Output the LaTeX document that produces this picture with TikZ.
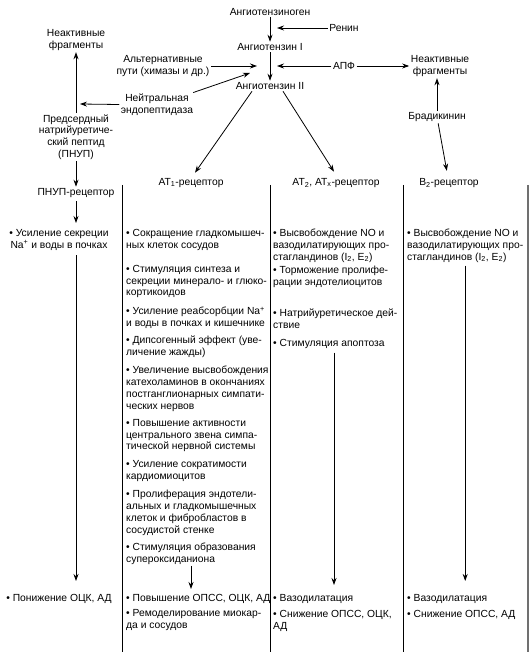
\documentclass[tikz,border=0pt]{standalone}
\usepackage{fontspec}
\setmainfont{Liberation Sans}
\usepackage{tikz}
\usetikzlibrary{arrows.meta, positioning, calc}
\definecolor{grisborde}{RGB}{112,112,112}

\begin{document}
\begin{tikzpicture}[x=1pt, y=-1pt,
  tekst/.style={font=\fontsize{10.3}{11.8}\selectfont, inner sep=0pt, align=left, anchor=north west},
  tekstc/.style={tekst, align=center, anchor=north},
  zagolovok/.style={font=\fontsize{10.3}{11.8}\selectfont, inner sep=1.5pt, align=center},
  strelka/.style={-{Stealth[length=7pt,width=5pt]}, line width=0.8pt}]
  \useasboundingbox (0,0) rectangle (531,652);
  % top of the cascade
  \node[zagolovok] (ang0) at (270,12) {Ангиотензиноген};
  \node[zagolovok] (renin) at (344,28) {Ренин};
  \node[zagolovok] (ang1) at (270,47) {Ангиотензин I};
  \node[zagolovok] (apf) at (344,66) {АПФ};
  \node[zagolovok] (ang2) at (270,86) {Ангиотензин II};
  \node[zagolovok] (fragr) at (440,66) {Неактивные\\фрагменты};
  \node[zagolovok] (brad) at (437,117) {Брадикинин};
  \node[zagolovok] (alt) at (163,66) {Альтернативные\\пути (химазы и др.)};
  \node[zagolovok] (nep) at (157,105) {Нейтральная\\эндопептидаза};
  \node[zagolovok] (fragl) at (76,40) {Неактивные\\фрагменты};
  \node[zagolovok] (pnup) at (76,137) {Предсердный\\натрийуретиче-\\ский пептид\\(ПНУП)};
  \coordinate (reninend) at (277,28);
  \coordinate (apfend) at (277,66);
  \coordinate (altend) at (257,66);
  \coordinate (nepend) at (250,73);
  \coordinate (nepleft) at (80,104);
  \draw[strelka] (ang0) -- (ang1);
  \draw[strelka] (ang1) -- (ang2);
  \draw[strelka] (renin) -- (reninend);
  \draw[strelka] (apf) -- (apfend);
  \draw[strelka] (apf) -- (fragr);
  \draw[strelka] (alt) -- (altend);
  \draw[strelka] (nep) -- (nepend);
  \draw[strelka] (nep) -- (nepleft);
  \draw[strelka] (pnup) -- (fragl);
  \draw[strelka] (brad.north) -- (brad.north |- fragr.south);
  % receptors
  \node[zagolovok] (pnuprec) at (76,193) {ПНУП-рецептор};
  \node[zagolovok] (at1) at (191,183) {AT\textsubscript{1}-рецептор};
  \node[zagolovok] (at2) at (336,183) {AT\textsubscript{2}, AT\textsubscript{x}-рецептор};
  \node[zagolovok] (b2) at (449,183) {B\textsubscript{2}-рецептор};
  \draw[strelka] (pnup) -- (pnuprec);
  \draw[strelka] ([xshift=-18pt]ang2.south) -- ([xshift=4pt,yshift=4pt]at1.north);
  \draw[strelka] ([xshift=13pt]ang2.south) -- ([xshift=-2pt,yshift=5pt]at2.north);
  \draw[strelka, shorten >=6pt] (brad) -- (b2);
  % columns
  \foreach \x in {122,270,403} { \draw[line width=0.9pt] (\x,185) -- (\x,652); }
  \draw[grisborde, line width=1.6pt] (528,185) -- (528,652);
  % PNUP column
  \node[tekstc] (c1a) at (59,229) {\textbullet{} Усиление секреции\\Na\textsuperscript{+} и воды в почках};
  \node[tekstc] (c1b) at (59,594) {\textbullet{} Понижение ОЦК, АД};
  \draw[strelka, shorten <=2pt, shorten >=6pt] (pnuprec) -- (pnuprec |- c1a.north);
  \draw[strelka, shorten <=5pt, shorten >=13pt] (c1a.south -| pnuprec) -- (c1b.north -| pnuprec);
  % AT1 column
  \foreach \n/\y/\t in {at1a/229/{\textbullet{} Сокращение гладкомышеч-\\ных клеток сосудов},
      at1b/265/{\textbullet{} Стимуляция синтеза и\\секреции минерало- и глюко-\\кортикоидов},
      at1c/307/{\textbullet{} Усиление реабсорбции Na\textsuperscript{+}\\и воды в почках и кишечнике},
      at1d/336/{\textbullet{} Дипсогенный эффект (уве-\\личение жажды)},
      at1e/366/{\textbullet{} Увеличение высвобождения\\катехоламинов в окончаниях\\постганглионарных симпати-\\ческих нервов},
      at1f/419/{\textbullet{} Повышение активности\\центрального звена симпа-\\тической нервной системы},
      at1g/460/{\textbullet{} Усиление сократимости\\кардиомиоцитов},
      at1h/490/{\textbullet{} Пролиферация эндотели-\\альных и гладкомышечных\\клеток и фибробластов в\\сосудистой стенке},
      at1i/543/{\textbullet{} Стимуляция образования\\супероксиданиона},
      at1n/594/{\textbullet{} Повышение ОПСС, ОЦК, АД},
      at1o/609/{\textbullet{} Ремоделирование миокар-\\да и сосудов}}
    { \node[tekst] (\n) at (126,\y) {\t}; }
  \draw[strelka, shorten <=1pt, shorten >=5pt] (at1i.south -| at1) -- (at1n.north -| at1);
  % AT2 column
  \node[tekst] (at2a) at (273,229) {\textbullet{} Высвобождение NO и\\вазодилатирующих про-\\стагландинов (I\textsubscript{2}, E\textsubscript{2})};
  \node[tekst] (at2b) at (273,266) {\textbullet{} Торможение пролифе-\\рации эндотелиоцитов};
  \node[tekst] (at2c) at (273,309) {\textbullet{} Натрийуретическое дей-\\ствие};
  \node[tekst] (at2d) at (273,339) {\textbullet{} Стимуляция апоптоза};
  \node[tekst] (at2n) at (273,594) {\textbullet{} Вазодилатация};
  \node[tekst] (at2o) at (273,610) {\textbullet{} Снижение ОПСС, ОЦК,\\АД};
  \draw[strelka, shorten <=4pt, shorten >=9pt] ([xshift=-2pt]at2d.south -| at2) -- ([xshift=-2pt]at2n.north -| at2);
  % B2 column
  \node[tekst] (b2a) at (407,229) {\textbullet{} Высвобождение NO и\\вазодилатирующих про-\\стагландинов (I\textsubscript{2}, E\textsubscript{2})};
  \node[tekst] (b2n) at (407,594) {\textbullet{} Вазодилатация};
  \node[tekst] (b2o) at (407,610) {\textbullet{} Снижение ОПСС, АД};
  \draw[strelka, shorten <=3pt, shorten >=13pt] (b2a.south) -- (b2a.south |- b2n.north);
\end{tikzpicture}
\end{document}
